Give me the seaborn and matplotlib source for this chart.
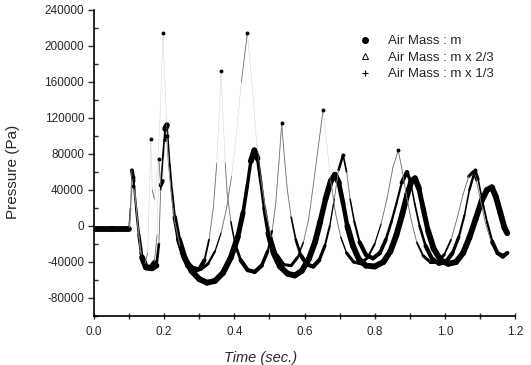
import matplotlib
matplotlib.use("Agg")
import matplotlib.pyplot as plt
from matplotlib.collections import LineCollection
from matplotlib.lines import Line2D
from matplotlib.ticker import MultipleLocator
import numpy as np
import seaborn as sns

# Air mass m (sec / Pa)
t_m = [0.00, 0.05, 0.100, 0.104, 0.108, 0.113, 0.120, 0.128, 0.137, 0.148, 0.165, 0.178,
       0.185, 0.190, 0.196, 0.203, 0.208, 0.212, 0.216, 0.222, 0.230, 0.242, 0.258, 0.278,
       0.300, 0.322, 0.345, 0.368, 0.390, 0.410, 0.425, 0.437, 0.447, 0.457, 0.466, 0.475,
       0.485, 0.497, 0.512, 0.530, 0.552, 0.572, 0.592, 0.612, 0.630, 0.645, 0.660, 0.675,
       0.687, 0.698, 0.710, 0.722, 0.738, 0.755, 0.775, 0.800, 0.825, 0.845, 0.862, 0.878,
       0.893, 0.905, 0.915, 0.926, 0.938, 0.952, 0.968, 0.988, 1.010, 1.032, 1.052, 1.070,
       1.088, 1.105, 1.120, 1.134, 1.145, 1.158, 1.170, 1.178]
p_m = [-3000, -3000, -3000, 20000, 62000, 50000, 20000, -10000, -35000, -46000, -47000, -44000,
       -20000, 40000, 75000, 108000, 112000, 90000, 68000, 40000, 10000, -15000, -35000, -50000,
       -59000, -63000, -61000, -52000, -35000, -12000, 15000, 45000, 72000, 84000, 75000, 50000,
       20000, -8000, -30000, -45000, -53000, -55000, -50000, -37000, -18000, 5000, 30000, 50000,
       57000, 48000, 25000, 0, -22000, -37000, -44000, -45000, -40000, -28000, -10000, 12000,
       35000, 50000, 53000, 42000, 20000, -5000, -25000, -38000, -42000, -40000, -30000, -13000,
       8000, 28000, 40000, 43000, 33000, 15000, -2000, -8000]

# Air mass m x 2/3
t_m23 = [0.00, 0.100, 0.105, 0.110, 0.116, 0.124, 0.133, 0.145, 0.160, 0.172, 0.180, 0.185,
         0.190, 0.196, 0.202, 0.207, 0.212, 0.218, 0.226, 0.236, 0.250, 0.265, 0.282, 0.300,
         0.315, 0.328, 0.340, 0.350, 0.356, 0.362, 0.368, 0.374, 0.380, 0.390, 0.402, 0.418,
         0.438, 0.458, 0.478, 0.495, 0.508, 0.518, 0.527, 0.535, 0.543, 0.551, 0.562, 0.575,
         0.590, 0.608, 0.625, 0.642, 0.658, 0.672, 0.685, 0.697, 0.710, 0.720, 0.730, 0.742,
         0.757, 0.775, 0.795, 0.815, 0.832, 0.848, 0.862, 0.877, 0.892, 0.902, 0.914, 0.928,
         0.945, 0.963, 0.983, 1.003, 1.022, 1.040, 1.056, 1.070, 1.086, 1.095, 1.107, 1.120,
         1.135, 1.150, 1.165, 1.178]
p_m23 = [-3000, -3000, 25000, 55000, 40000, 5000, -30000, -44000, -46000, -40000, -10000, 75000,
         45000, 50000, 95000, 100000, 70000, 45000, 15000, -10000, -30000, -44000, -51000, -48000,
         -38000, -15000, 20000, 70000, 120000, 172000, 120000, 70000, 35000, 5000, -20000, -38000,
         -49000, -51000, -44000, -28000, -5000, 25000, 70000, 114000, 75000, 40000, 10000, -15000,
         -33000, -43000, -45000, -38000, -22000, 0, 30000, 62000, 79000, 60000, 30000, 5000,
         -18000, -32000, -36000, -30000, -15000, 5000, 25000, 48000, 60000, 50000, 25000, 0,
         -22000, -36000, -42000, -40000, -30000, -12000, 12000, 40000, 62000, 52000, 28000, 5000,
         -17000, -30000, -34000, -30000]

# Air mass m x 1/3
t_m13 = [0.00, 0.100, 0.106, 0.112, 0.118, 0.126, 0.135, 0.145, 0.153, 0.158, 0.162, 0.166,
         0.172, 0.180, 0.188, 0.197, 0.205, 0.212, 0.220, 0.230, 0.245, 0.262, 0.282, 0.305,
         0.325, 0.345, 0.362, 0.378, 0.392, 0.405, 0.420, 0.437, 0.450, 0.462, 0.475, 0.490,
         0.505, 0.522, 0.542, 0.562, 0.580, 0.597, 0.612, 0.625, 0.640, 0.653, 0.664, 0.675,
         0.688, 0.703, 0.720, 0.740, 0.760, 0.780, 0.800, 0.818, 0.835, 0.852, 0.867, 0.877,
         0.890, 0.905, 0.920, 0.938, 0.958, 0.978, 0.998, 1.018, 1.036, 1.052, 1.068, 1.080,
         1.090, 1.102, 1.116, 1.132, 1.150, 1.170]
p_m13 = [-3000, -3000, 20000, 45000, 30000, -5000, -32000, -42000, -30000, 40000, 97000, 40000,
         30000, 60000, 120000, 214000, 130000, 75000, 35000, 5000, -22000, -38000, -46000, -48000,
         -42000, -28000, -8000, 20000, 55000, 100000, 160000, 214000, 160000, 100000, 55000, 15000,
         -12000, -32000, -43000, -44000, -35000, -18000, 8000, 45000, 90000, 129000, 90000, 50000,
         15000, -12000, -30000, -40000, -42000, -35000, -20000, 2000, 30000, 65000, 84000, 65000,
         35000, 5000, -18000, -33000, -40000, -40000, -32000, -15000, 10000, 35000, 55000, 60000,
         50000, 28000, 3000, -18000, -30000, -33000]

labels = ["Air Mass : m", "Air Mass : m x 2/3", "Air Mass : m x 1/3"]

sns.set_style("ticks")
plt.rcParams["font.family"] = ["Liberation Sans", "DejaVu Sans"]

fig = plt.figure(figsize=(5.31, 3.65), dpi=100)
ax = fig.add_axes([94 / 531, 1 - 316 / 365, (515 - 94) / 531, (316 - 10) / 365])
ax.set_xlim(0, 1.2)
ax.set_ylim(-100000, 240000)


def draw_series(t, p, base_lw, k, tips):
    t = np.asarray(t, float)
    p = np.asarray(p, float)
    # faint trace, like the sparse markers on steep parts of the scan
    sns.lineplot(x=t, y=p, ax=ax, sort=False, estimator=None, color="0.72", lw=0.4,
                 linestyle=(0, (2, 1.5)))
    pts = ax.transData.transform(np.column_stack([t, p]))
    d = np.diff(pts, axis=0)
    slope = np.abs(d[:, 1]) / np.maximum(np.abs(d[:, 0]), 1e-6)
    widths = base_lw * np.clip(k / slope, 0, 1)
    segs = np.stack([np.column_stack([t[:-1], p[:-1]]),
                     np.column_stack([t[1:], p[1:]])], axis=1)
    solid = widths >= 0.9
    thin = (widths >= 0.35) & ~solid
    ax.add_collection(LineCollection(segs[solid], linewidths=widths[solid],
                                     colors="black", capstyle="round"))
    ax.add_collection(LineCollection(segs[thin], linewidths=0.6,
                                     colors="0.45", capstyle="round"))
    if tips:
        # dense marker blobs at the spike tips
        tip = np.where((p[1:-1] > p[:-2]) & (p[1:-1] > p[2:]))[0] + 1
        ax.scatter(t[tip], p[tip], s=8, color="black", linewidths=0, zorder=3)


draw_series(t_m, p_m, 4.2, 4.0, False)
draw_series(t_m23, p_m23, 3.0, 2.0, True)
draw_series(t_m13, p_m13, 2.2, 1.3, True)

sns.despine(ax=ax)
for s in ["left", "bottom"]:
    ax.spines[s].set_linewidth(1.2)
    ax.spines[s].set_color("black")

ax.yaxis.set_minor_locator(MultipleLocator(20000))
ax.xaxis.set_minor_locator(MultipleLocator(0.1))
ax.set_yticks(np.arange(-80000, 240001, 40000))
ax.set_yticklabels([f"{v:d}" for v in range(-80000, 240001, 40000)])
ax.set_xticks(np.arange(0, 1.21, 0.2))
ax.set_xticklabels([f"{v:.1f}" for v in np.arange(0, 1.21, 0.2)])
ax.tick_params(axis="y", which="major", direction="out", length=4, width=1, labelsize=8.5, pad=3)
ax.tick_params(axis="y", which="minor", direction="in", length=3, width=1)
ax.tick_params(axis="x", which="major", direction="inout", length=5, width=1, labelsize=8.5, pad=5)
ax.tick_params(axis="x", which="minor", direction="inout", length=4, width=1)

ax.set_ylabel("Pressure (Pa)", fontsize=11)
ax.yaxis.set_label_coords(-0.175, 0.47)
ax.set_xlabel("Time (sec.)", fontsize=10.5, style="italic")
ax.xaxis.set_label_coords(0.395, -0.115)

handles = [
    Line2D([], [], ls="none", marker="o", markersize=4, color="black"),
    Line2D([], [], ls="none", marker="^", markersize=4, color="black", fillstyle="none", markeredgewidth=0.7),
    Line2D([], [], ls="none", marker="+", markersize=4, color="black", markeredgewidth=0.8),
]
fig.legend(handles, labels, loc="upper left", bbox_to_anchor=(358 / 531, 1 - 35 / 365),
           frameon=False, fontsize=9.5, handlelength=1.0, handletextpad=1.3,
           labelspacing=0.33, borderpad=0, borderaxespad=0)

fig.savefig("out.png", dpi=100)
